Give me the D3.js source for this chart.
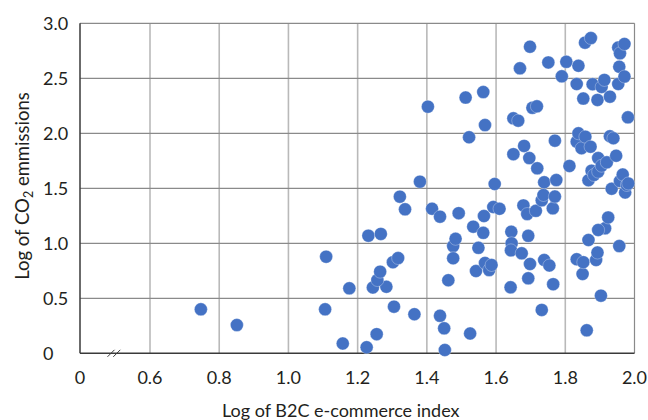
<!DOCTYPE html>
<html>
<head>
<meta charset="utf-8">
<script src="https://cdn.jsdelivr.net/npm/d3@7"></script>
<style>
  html, body { margin: 0; padding: 0; background: #fff; }
  svg { display: block; }
  text { font-family: Lato, "Open Sans", sans-serif; fill: #231f20; }
</style>
</head>
<body>
<svg id="chart" width="648" height="420"></svg>
<script>
// Log of B2C e-commerce index for each country
const b2cIndex = [
  0.747, 0.851, 1.109, 1.106, 1.157, 1.176,
  1.226, 1.231, 1.267, 1.255, 1.244, 1.283, 1.257, 1.265, 1.302, 1.317, 1.305, 1.322, 1.337, 1.364, 1.380,
  1.403, 1.415, 1.438, 1.438, 1.450, 1.452, 1.462, 1.476, 1.476, 1.483, 1.492, 1.512, 1.522, 1.525,
  1.534, 1.542, 1.549, 1.563, 1.563, 1.565, 1.568, 1.568, 1.580, 1.587, 1.592, 1.610, 1.596,
  1.642, 1.644, 1.645, 1.643, 1.650, 1.664, 1.650, 1.669, 1.674, 1.679, 1.681, 1.690, 1.693, 1.693,
  1.696, 1.698, 1.698, 1.705, 1.718, 1.715, 1.719, 1.732, 1.732, 1.737, 1.739, 1.739, 1.751, 1.754,
  1.764, 1.765, 1.770, 1.770, 1.774, 1.790,
  1.803, 1.812, 1.833, 1.833, 1.833, 1.838, 1.838, 1.847, 1.850, 1.852, 1.852, 1.857, 1.858, 1.862,
  1.867, 1.867, 1.873, 1.874, 1.876, 1.879, 1.883, 1.889, 1.893, 1.893, 1.895, 1.895, 1.903, 1.905,
  1.905, 1.913, 1.915, 1.920, 1.924, 1.929, 1.929, 1.934, 1.939, 1.947, 1.953, 1.953, 1.956, 1.956,
  1.958, 1.958, 1.966, 1.971, 1.971, 1.973, 1.978, 1.981, 1.982, 1.895
];

// Log of CO2 emissions for the same countries
const co2Emissions = [
  0.400, 0.257, 0.878, 0.400, 0.089, 0.591,
  0.055, 1.069, 1.085, 0.174, 0.598, 0.605, 0.666, 0.742, 0.828, 0.866, 0.424, 1.424, 1.309, 0.355, 1.560,
  2.242, 1.314, 1.242, 0.341, 0.227, 0.030, 0.664, 0.975, 0.864, 1.041, 1.274, 2.325, 1.964, 0.180,
  1.151, 0.748, 0.959, 1.095, 2.375, 1.248, 2.075, 0.821, 0.757, 0.803, 1.330, 1.314, 1.539,
  0.600, 1.105, 1.000, 0.936, 2.136, 2.115, 1.810, 2.591, 0.909, 1.344, 1.885, 1.266, 1.068, 0.682,
  1.775, 2.787, 0.812, 2.232, 2.245, 1.295, 1.682, 0.394, 1.391, 1.439, 1.555, 0.848, 2.644, 0.798,
  1.318, 0.628, 1.933, 1.425, 1.575, 2.518,
  2.650, 1.703, 2.448, 1.924, 0.855, 2.614, 2.000, 1.864, 0.721, 2.316, 0.828, 2.824, 1.969, 0.209,
  1.573, 1.030, 1.878, 2.866, 1.660, 2.446, 1.621, 0.848, 0.916, 2.303, 1.775, 1.651, 0.524, 2.421,
  1.705, 2.485, 1.136, 1.736, 1.235, 2.333, 1.973, 1.496, 1.955, 1.796, 2.780, 2.448, 2.605, 0.975,
  2.727, 1.566, 1.625, 2.812, 2.516, 1.462, 1.530, 2.145, 1.544, 1.121
];

// Axis ticks (the x axis is broken between 0 and 0.6)
const xTicks = [0, 0.6, 0.8, 1.0, 1.2, 1.4, 1.6, 1.8, 2.0];
const yTicks = [0, 0.5, 1.0, 1.5, 2.0, 2.5, 3.0];
const xTitle = "Log of B2C e-commerce index";

const svg = d3.select("#chart");
const plotL = 80, plotR = 634.5, plotT = 23.3, plotB = 353.3;

const x = d3.scaleLinear().domain([0, 0.6, 2.0]).range([plotL, 150, plotR]);
const y = d3.scaleLinear().domain([0, 3]).range([plotB, plotT]);
const fmt = v => v === 0 ? "0" : v.toFixed(1);

// vertical grid lines (lighter)
svg.append("g").selectAll("line")
  .data(xTicks.filter(v => v > 0 && v < 2.0))
  .join("line")
  .attr("x1", d => x(d)).attr("x2", d => x(d))
  .attr("y1", plotT).attr("y2", plotB)
  .attr("stroke", "#b9b9b9").attr("stroke-width", 1.6);

// right border
svg.append("line")
  .attr("x1", x(2.0)).attr("x2", x(2.0))
  .attr("y1", plotT).attr("y2", plotB)
  .attr("stroke", "#8a8a8a").attr("stroke-width", 1.2);

// horizontal grid lines
svg.append("g").selectAll("line")
  .data(yTicks.filter(v => v > 0))
  .join("line")
  .attr("x1", plotL).attr("x2", plotR)
  .attr("y1", d => y(d)).attr("y2", d => y(d))
  .attr("stroke", "#8a8a8a").attr("stroke-width", 1.2);

// main axes
svg.append("line")
  .attr("x1", plotL).attr("x2", plotL).attr("y1", plotT).attr("y2", plotB)
  .attr("stroke", "#3a3a3a").attr("stroke-width", 1.5);
svg.append("line")
  .attr("x1", plotL).attr("x2", plotR).attr("y1", plotB).attr("y2", plotB)
  .attr("stroke", "#3a3a3a").attr("stroke-width", 1.6);

// axis break marks
[0, 5.8].forEach(off => {
  svg.append("line")
    .attr("x1", 107.5 + off).attr("y1", plotB + 3.5)
    .attr("x2", 114.5 + off).attr("y2", plotB - 3.5)
    .attr("stroke", "#3a3a3a").attr("stroke-width", 1);
});

// tick labels
svg.append("g").selectAll("text")
  .data(yTicks)
  .join("text")
  .attr("x", 43).attr("y", d => y(d) + 6.3)
  .attr("font-size", 18)
  .text(fmt);

svg.append("g").selectAll("text")
  .data(xTicks)
  .join("text")
  .attr("x", d => x(d)).attr("y", 383.5)
  .attr("text-anchor", "middle")
  .attr("font-size", 18)
  .text(fmt);

// axis titles
svg.append("text")
  .attr("x", 222).attr("y", 416.5)
  .attr("font-size", 18)
  .text(xTitle);

const yt = svg.append("text")
  .attr("transform", "translate(29,186) rotate(-90)")
  .attr("text-anchor", "middle")
  .attr("font-size", 18.5);
yt.append("tspan").text("Log of CO");
yt.append("tspan").attr("font-size", 12.5).attr("dy", 4).text("2");
yt.append("tspan").attr("dy", -4).text(" emmissions");

// data points
svg.append("g").selectAll("circle")
  .data(b2cIndex.map((v, i) => [v, co2Emissions[i]]))
  .join("circle")
  .attr("cx", d => x(d[0]))
  .attr("cy", d => y(d[1]))
  .attr("r", 6.5)
  .attr("fill", "#4472c4")
  .attr("stroke", "#ffffff")
  .attr("stroke-width", 0.5)
  .attr("stroke-opacity", 0.6);
</script>
</body>
</html>
